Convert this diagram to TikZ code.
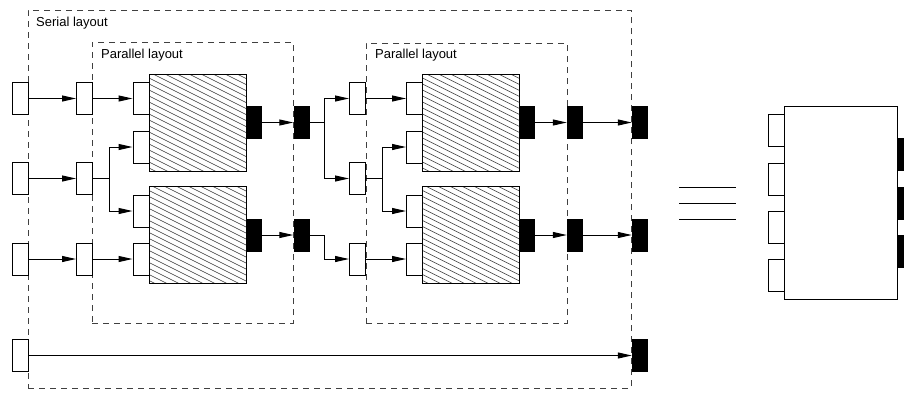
\documentclass[tikz,border=0pt]{standalone}
\usepackage{fontspec}
\setmainfont{Liberation Sans}
\usetikzlibrary{arrows.meta}

\begin{document}
\begin{tikzpicture}[x=1pt,y=-1pt,
    wport/.style={rectangle,draw,line width=1pt,fill=white,inner sep=0pt,minimum width=16pt,minimum height=32pt},
    bport/.style={rectangle,fill=black,inner sep=0pt,minimum width=16pt,minimum height=33pt},
    core/.style={rectangle,draw,line width=1pt,fill=white,inner sep=0pt,minimum size=97pt,
      path picture={\foreach \k [evaluate=\k as \dy using 56-6*\k] in {0,...,26}
        \draw[line width=0.6pt,black!80] ([yshift=\dy pt]path picture bounding box.north west) -- ++(120,60);}},
    frame/.style={rectangle,draw=black!75,line width=1pt,dash pattern=on 6pt off 5pt,inner sep=0pt},
    lbl/.style={anchor=base west,inner sep=0pt,font=\fontsize{13}{15}\selectfont},
    arrow/.style={-{Triangle[length=14pt,width=6pt]},line width=1pt}
  ]
    \useasboundingbox (0,0) rectangle (904,392);
    % layout frames
    \node[frame,minimum width=603pt,minimum height=378pt] (serial) at (329.5,199) {};
    \node[frame,minimum width=201pt,minimum height=281pt] (par1) at (192.5,182.5) {};
    \node[frame,minimum width=201pt,minimum height=280pt] (par2) at (466.5,183) {};
    \node[lbl] (serlbl) at (36,26) {Serial layout};
    \node[lbl] (parlbla) at (101,58) {Parallel layout};
    \node[lbl] (parlblb) at (375,58) {Parallel layout};
    % serial inputs
    \node[wport] (in1) at (20,98.5) {};
    \node[wport] (in2) at (20,178.5) {};
    \node[wport] (in3) at (20,259) {};
    \node[wport] (in4) at (20,355.5) {};
    % first parallel stage
    \node[wport] (pa1) at (84.5,98.5) {};
    \node[wport] (pa2) at (84.5,178.5) {};
    \node[wport] (pa3) at (84.5,259) {};
    \node[wport] (ca1) at (141,98.5) {};
    \node[wport] (ca2) at (141,147) {};
    \node[wport] (ca3) at (141,211) {};
    \node[wport] (ca4) at (141,259) {};
    \node[core] (corea) at (197.5,122.5) {};
    \node[core] (coreb) at (197.5,235) {};
    \node[bport] (oa) at (254,122.5) {};
    \node[bport] (ob) at (254,235) {};
    \node[bport] (ma) at (301.5,122.5) {};
    \node[bport] (mb) at (301.5,235) {};
    % second parallel stage
    \node[wport] (pb1) at (357.5,98.5) {};
    \node[wport] (pb2) at (357.5,178.5) {};
    \node[wport] (pb3) at (357.5,259) {};
    \node[wport] (cb1) at (414.5,98.5) {};
    \node[wport] (cb2) at (414.5,147) {};
    \node[wport] (cb3) at (414.5,211) {};
    \node[wport] (cb4) at (414.5,259) {};
    \node[core] (corec) at (471,122.5) {};
    \node[core] (cored) at (471,235) {};
    \node[bport] (oc) at (527,122.5) {};
    \node[bport] (od) at (527,235) {};
    \node[bport] (nc) at (575,122.5) {};
    \node[bport] (nd) at (575,235) {};
    % serial outputs
    \node[bport] (out1) at (640,122.5) {};
    \node[bport] (out2) at (640,235) {};
    \node[bport] (out3) at (640,355.5) {};
    % connections
    \draw[arrow] (in1) -- (pa1);
    \draw[arrow] (in2) -- (pa2);
    \draw[arrow] (in3) -- (pa3);
    \draw[arrow] (in4) -- (out3);
    \draw[arrow] (pa1) -- (ca1);
    \draw[arrow] (pa2.east) -- ++(16,0) |- (ca2.west);
    \draw[arrow] (pa2.east) -- ++(16,0) |- (ca3.west);
    \draw[arrow] (pa3) -- (ca4);
    \draw[arrow] (oa) -- (ma);
    \draw[arrow] (ob) -- (mb);
    \draw[arrow] (ma.east) -- ++(15,0) |- (pb1.west);
    \draw[arrow] (ma.east) -- ++(15,0) |- (pb2.west);
    \draw[arrow] (mb.east) -- ++(15,0) |- (pb3.west);
    \draw[arrow] (pb1) -- (cb1);
    \draw[arrow] (pb2.east) -- ++(16,0) |- (cb2.west);
    \draw[arrow] (pb2.east) -- ++(16,0) |- (cb3.west);
    \draw[arrow] (pb3) -- (cb4);
    \draw[arrow] (oc) -- (nc);
    \draw[arrow] (od) -- (nd);
    \draw[arrow] (nc) -- (out1);
    \draw[arrow] (nd) -- (out2);
    % equivalence
    \foreach \y in {187,203,219}
      \draw[line width=1pt] (679,\y) -- (736,\y);
    % equivalent block
    \node[rectangle,draw,line width=1pt,inner sep=0pt,minimum width=113pt,minimum height=193pt] (blk) at (840.5,202.5) {};
    \node[wport] (bi1) at (776,130.5) {};
    \node[wport] (bi2) at (776,179) {};
    \node[wport] (bi3) at (776,227) {};
    \node[wport] (bi4) at (776,275.5) {};
    \node[bport] (bo1) at (905,154.5) {};
    \node[bport] (bo2) at (905,203) {};
    \node[bport] (bo3) at (905,251) {};
  \end{tikzpicture}
\end{document}
